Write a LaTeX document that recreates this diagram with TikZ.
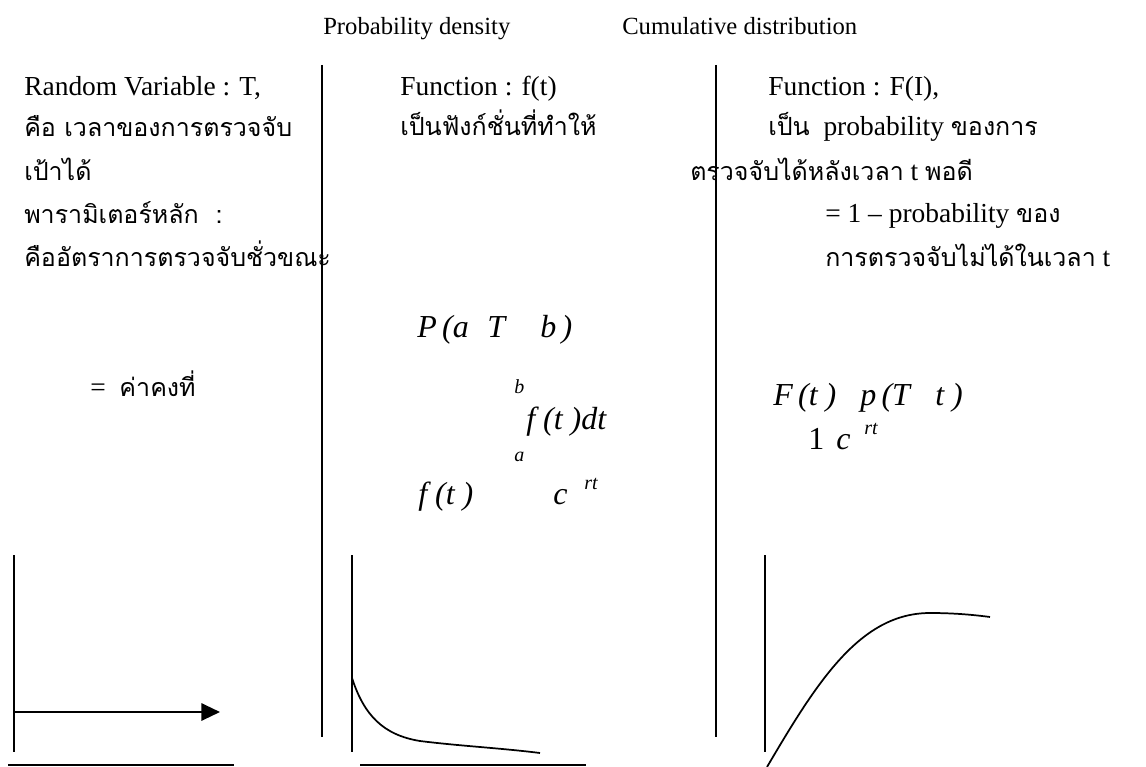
\documentclass[tikz,border=0pt]{standalone}
\usepackage{fontspec}
\setmainfont{Liberation Serif}
\newfontfamily\thaifont[Script=Thai,Scale=0.91]{Loma}
\usetikzlibrary{arrows.meta}
\begin{document}
\begin{tikzpicture}[x=0.75pt,y=-0.75pt,
  txt/.style={anchor=base west,inner sep=0pt,font=\fontsize{20.6}{24}\selectfont},
  ttl/.style={anchor=base west,inner sep=0pt,font=\fontsize{18.5}{22}\selectfont},
  mth/.style={anchor=base west,inner sep=0pt,font=\fontsize{24}{28}\selectfont\itshape},
  mup/.style={anchor=base west,inner sep=0pt,font=\fontsize{24}{28}\selectfont},
  sml/.style={anchor=base west,inner sep=0pt,font=\fontsize{15}{17}\selectfont\itshape},
  sepline/.style={line width=1.1pt},
  axisline/.style={line width=0.8pt},
  baseline/.style={line width=1.8pt},
  curveline/.style={line width=1.3pt},
]
\useasboundingbox (0,0) rectangle (1146,767);
% titles
\node[ttl] (t1) at (323,35) {Probability density};
\node[ttl] (t2) at (622,35) {Cumulative distribution};
% separators
\draw[sepline] (322,65) -- (322,737);
\draw[sepline] (716,65) -- (716,737);
% column 1
\node[txt] (a1) at (24,95) {Random Variable : T,};
\node[txt] (a2) at (24,137) {\thaifont คือ เวลาของการตรวจจับ};
\node[txt] (a3) at (24,180) {\thaifont เป้าได้};
\node[txt] (a4) at (24,223) {\thaifont พารามิเตอร์หลัก\ \ :};
\node[txt] (a5) at (24,266) {\thaifont คืออัตราการตรวจจับชั่วขณะ};
\node[txt] (a6) at (90,396) {=\ \ {\thaifont ค่าคงที่}};
% column 2
\node[txt] (b1) at (400,95) {Function : f(t)};
\node[txt] (b2) at (400,136) {\thaifont เป็นฟังก์ชั่นที่ทำให้};
\node[mth] (m1) at (417,337) {P\,(a};
\node[mth] (m2) at (487,337) {T};
\node[mth] (m3) at (540,337) {b\,)};
\node[sml] (m4) at (514,393) {b};
\node[mth] (m5) at (526,429) {f (t )dt};
\node[sml] (m6) at (514,461) {a};
\node[mth] (m7) at (418,504) {f (t )};
\node[mth] (m8) at (553,504) {c};
\node[sml] (m9) at (584,489) {rt};
% column 3
\node[txt] (c1) at (768,95) {Function : F(I),};
\node[txt] (c2) at (768,136) {{\thaifont เป็น}\ \ probability {\thaifont ของการ}};
\node[txt] (c3) at (690,180) {{\thaifont ตรวจจับได้หลังเวลา} t {\thaifont พอดี}};
\node[txt] (c4) at (825,222) {= 1 – probability {\thaifont ของ}};
\node[txt] (c5) at (825,266) {{\thaifont การตรวจจับไม่ได้ในเวลา} t};
\node[mth] (n1) at (773,405) {F\,(t )};
\node[mth] (n2) at (860,405) {p\,(T};
\node[mth] (n3) at (935,405) {t )};
\node[mup] (n4) at (808,449) {1};
\node[mth] (n5) at (836,449) {c};
\node[sml] (n6) at (864,434) {rt};
% graph 1
\draw[axisline] (14,555) -- (14,752);
\draw[line width=1.6pt,-{Triangle[length=14pt,width=13pt]}] (14,712) -- (220,712);
\draw[baseline] (8,765) -- (234,765);
% graph 2
\draw[axisline] (352,555) -- (352,752);
\draw[curveline] (352,678) .. controls (364,715) and (383,735) .. (420,741) .. controls (460,746) and (500,748) .. (540,753);
\draw[baseline] (360,765) -- (586,765);
% graph 3
\draw[axisline] (765,555) -- (765,752);
\draw[curveline] (767,767) .. controls (817,682) and (860,613) .. (930,613) .. controls (955,613) and (975,615) .. (990,617);
\end{tikzpicture}
\end{document}
